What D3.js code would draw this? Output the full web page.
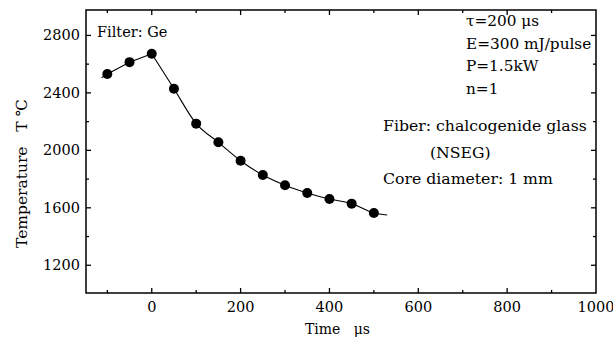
<!DOCTYPE html>
<html>
<head>
<meta charset="utf-8">
<script src="https://cdn.jsdelivr.net/npm/d3@7"></script>
<style>
body{margin:0;background:#fff;}
text{font-family:"DejaVu Serif","Liberation Serif",serif;fill:#000;}
</style>
</head>
<body>
<div id="chart"></div>
<script>
// data
var times = [-100, -50, 0, 50, 100, 150, 200, 250, 300, 350, 400, 450, 500];
var temps = [2531, 2614, 2673, 2429, 2186, 2056, 1928, 1828, 1757, 1703, 1661, 1629, 1564];
var fitStart = [-113, 2505];
var fitEnd = [530, 1550];

var xTickLabels = [0, 200, 400, 600, 800, 1000];
var xMajor = [0, 200, 400, 600, 800];
var xMinor = [-100, 100, 300, 500, 700, 900];
var yTickLabels = [1200, 1600, 2000, 2400, 2800];
var yMinor = [1400, 1800, 2200, 2600];

var notesRight = ["\u03c4=200 \u03bcs", "E=300 mJ/pulse", "P=1.5kW", "n=1"];
var notesFiber = ["Fiber: chalcogenide glass", "(NSEG)", "Core diameter: 1 mm"];

var W = 613, H = 354;
var margin = {top: 10, right: 17, bottom: 61, left: 86},
    width = W - margin.left - margin.right,
    height = H - margin.top - margin.bottom;

var svg = d3.select("#chart").append("svg")
    .attr("width", W).attr("height", H)
    .append("g")
    .attr("transform", "translate(" + margin.left + "," + margin.top + ")");

var x = d3.scaleLinear().domain([-148, 1000]).range([0, width]);
var y = d3.scaleLinear().domain([1007, 2977]).range([height, 0]);

// frame
svg.append("rect")
    .attr("width", width).attr("height", height)
    .attr("fill", "none").attr("stroke", "#000").attr("stroke-width", 1.5);

// inward ticks, all four sides
var ticks = svg.append("g").attr("stroke", "#000").attr("stroke-width", 1.3);
function xTicks(vals, len) {
    vals.forEach(function(v){
        ticks.append("line").attr("x1", x(v)).attr("x2", x(v)).attr("y1", height).attr("y2", height - len);
        ticks.append("line").attr("x1", x(v)).attr("x2", x(v)).attr("y1", 0).attr("y2", len);
    });
}
function yTicks(vals, len) {
    vals.forEach(function(v){
        ticks.append("line").attr("y1", y(v)).attr("y2", y(v)).attr("x1", 0).attr("x2", len);
        ticks.append("line").attr("y1", y(v)).attr("y2", y(v)).attr("x1", width).attr("x2", width - len);
    });
}
xTicks(xMajor, 5); xTicks(xMinor, 3);
yTicks(yTickLabels, 5); yTicks(yMinor, 3);

// tick labels
svg.selectAll(".xl").data(xTickLabels).enter().append("text")
    .attr("x", function(d){ return x(d); })
    .attr("y", height + 19)
    .attr("text-anchor", "middle")
    .style("font-size", "14.5px")
    .text(function(d){ return d; });

svg.selectAll(".yl").data(yTickLabels).enter().append("text")
    .attr("x", -6)
    .attr("y", function(d){ return y(d) + 5; })
    .attr("text-anchor", "end")
    .style("font-size", "14.5px")
    .text(function(d){ return d; });

// axis titles
svg.append("text")
    .attr("x", 219).attr("y", height + 41)
    .style("font-size", "14px")
    .attr("xml:space", "preserve")
    .text("Time   \u03bcs");

svg.append("text")
    .attr("transform", "translate(" + (27 - margin.left) + "," + (248 - margin.top) + ") rotate(-90)")
    .style("font-size", "15.5px")
    .attr("xml:space", "preserve")
    .text("Temperature   T \u2103");

// fitted curve
var pts = times.map(function(t, i){ return [t, temps[i]]; });
var rise = [fitStart].concat(pts.filter(function(p){ return p[0] <= 0; }));
var decay = pts.filter(function(p){ return p[0] >= 0; }).concat([fitEnd]);

var lineLin = d3.line().x(function(d){ return x(d[0]); }).y(function(d){ return y(d[1]); });
var lineCurve = d3.line().x(function(d){ return x(d[0]); }).y(function(d){ return y(d[1]); })
    .curve(d3.curveMonotoneX);

svg.append("path").attr("d", lineLin(rise))
    .attr("fill", "none").attr("stroke", "#000").attr("stroke-width", 1.1);
svg.append("path").attr("d", lineCurve(decay))
    .attr("fill", "none").attr("stroke", "#000").attr("stroke-width", 1.1);

svg.selectAll("circle").data(pts).enter().append("circle")
    .attr("cx", function(d){ return x(d[0]); })
    .attr("cy", function(d){ return y(d[1]); })
    .attr("r", 5)
    .attr("fill", "#000");

// annotations
svg.append("text")
    .attr("x", 97 - margin.left).attr("y", 37 - margin.top)
    .style("font-size", "14.5px")
    .text("Filter: Ge");

svg.selectAll(".nr").data(notesRight).enter().append("text")
    .attr("x", 466 - margin.left)
    .attr("y", function(d, i){ return 26 - margin.top + i * 22.7; })
    .style("font-size", "15.3px")
    .text(function(d){ return d; });

var fiberX = [383, 430, 383];
svg.selectAll(".nf").data(notesFiber).enter().append("text")
    .attr("x", function(d, i){ return fiberX[i] - margin.left; })
    .attr("y", function(d, i){ return 131 - margin.top + i * 26.5; })
    .style("font-size", "15.7px")
    .text(function(d){ return d; });
</script>
</body>
</html>
